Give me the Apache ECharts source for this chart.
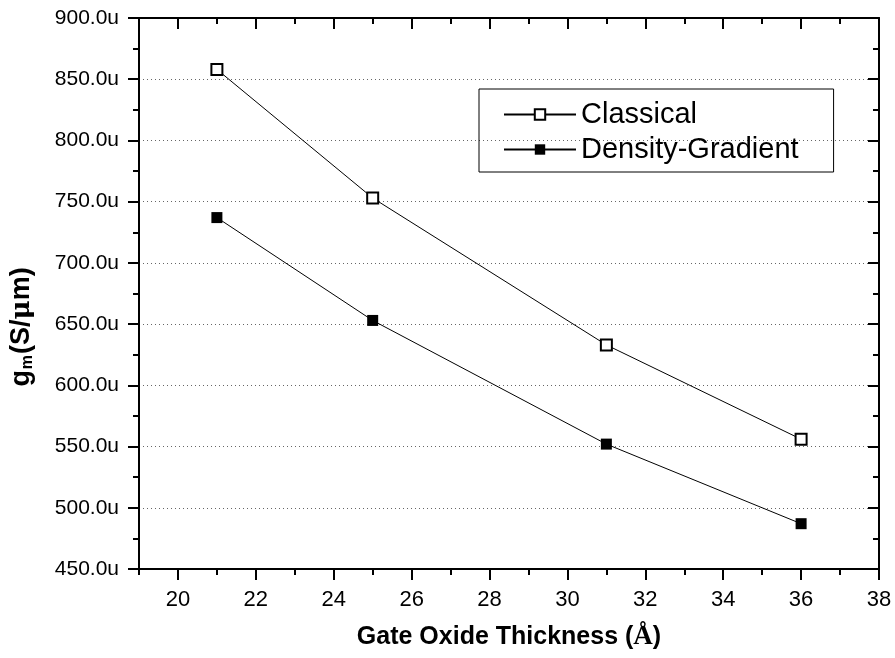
<!DOCTYPE html>
<html>
<head>
<meta charset="utf-8">
<script src="https://cdn.jsdelivr.net/npm/echarts@6/dist/echarts.min.js"></script>
<style>
  html, body { margin: 0; padding: 0; background: #fff; }
  #main { width: 895px; height: 658px; }
</style>
</head>
<body>
<div id="main"></div>
<script>
// data (y in uS/um, printed as "u")
const thickness = [21, 25, 31, 36]
const classical = [858, 753, 633, 556]
const densityGradient = [737, 653, 552, 487]
const xLabelTicks = [20, 22, 24, 26, 28, 30, 32, 34, 36, 38]
const seriesNames = ['Classical', 'Density-Gradient']

const chart = echarts.init(document.getElementById('main'), null, { renderer: 'canvas' })

const font = 'Liberation Sans, Arial, sans-serif'
const pairs = (ys) => thickness.map((x, i) => [x, ys[i]])

// common x axis bits
const xBase = {
  type: 'value',
  gridIndex: 0,
  min: 19,
  max: 38,
  interval: 1,
  splitLine: { show: false },
  axisLine: { show: true, onZero: false, lineStyle: { color: '#000', width: 2 } },
  axisTick: { show: true, length: 6, lineStyle: { color: '#000', width: 2 } },
  axisLabel: { show: false }
}

const option = {
  animation: false,
  backgroundColor: '#fff',
  grid: { left: 139, top: 18, right: 16, bottom: 89 },
  legend: {
    orient: 'vertical',
    left: 479,
    top: 89,
    padding: [11, 35, 8, 24],
    itemGap: 6,
    itemWidth: 72,
    itemHeight: 13,
    borderColor: '#000',
    borderWidth: 1,
    borderRadius: 0,
    data: seriesNames,
    textStyle: { fontFamily: font, fontSize: 29, color: '#000' }
  },
  xAxis: [
    Object.assign({}, xBase, {
      position: 'bottom',
      name: 'Gate Oxide Thickness ({s|Å})',
      nameLocation: 'middle',
      nameGap: 55,
      nameTextStyle: {
        fontFamily: font, fontSize: 25, fontWeight: 'bold', color: '#000',
        rich: { s: { fontFamily: 'Liberation Serif, Times New Roman, serif', fontSize: 27, fontWeight: 'bold', color: '#000' } }
      },
      axisLabel: {
        show: true,
        customValues: xLabelTicks,
        margin: 20,
        fontFamily: font,
        fontSize: 22,
        color: '#000'
      }
    }),
    Object.assign({}, xBase, {
      position: 'bottom',
      axisLine: { show: false },
      axisTick: { show: true, length: 11, customValues: xLabelTicks, lineStyle: { color: '#000', width: 2 } }
    }),
    Object.assign({}, xBase, {
      position: 'top',
      axisTick: { show: true, inside: true, length: 6, lineStyle: { color: '#000', width: 2 } }
    }),
    Object.assign({}, xBase, {
      position: 'top',
      axisLine: { show: false },
      axisTick: { show: true, inside: true, length: 11, customValues: xLabelTicks, lineStyle: { color: '#000', width: 2 } }
    })
  ],
  yAxis: [
    {
      type: 'value',
      position: 'left',
      min: 450,
      max: 900,
      interval: 50,
      axisLine: { show: true, onZero: false, lineStyle: { color: '#000', width: 2 } },
      axisTick: { show: true, length: 11, lineStyle: { color: '#000', width: 2 } },
      minorTick: { show: true, splitNumber: 2, length: 6, lineStyle: { color: '#000', width: 2 } },
      splitLine: { show: true, lineStyle: { color: '#666', width: 1, type: [1, 3] } },
      axisLabel: {
        margin: 20,
        fontFamily: font,
        fontSize: 21,
        color: '#000',
        formatter: (v) => v.toFixed(1) + 'u'
      }
    },
    {
      type: 'value',
      position: 'right',
      min: 450,
      max: 900,
      interval: 50,
      axisLine: { show: true, onZero: false, lineStyle: { color: '#000', width: 2 } },
      axisTick: { show: true, inside: true, length: 11, lineStyle: { color: '#000', width: 2 } },
      minorTick: { show: true, splitNumber: 2, length: 6, lineStyle: { color: '#000', width: 2 } },
      splitLine: { show: false },
      axisLabel: { show: false }
    }
  ],
  graphic: [
    {
      type: 'text',
      x: 22,
      y: 327,
      rotation: Math.PI / 2,
      style: {
        text: 'g{sub|m}(S/{mu|μ}m)',
        fontFamily: font,
        fontSize: 27,
        fontWeight: 'bold',
        fill: '#000',
        align: 'center',
        verticalAlign: 'middle',
        rich: {
          sub: { fontFamily: font, fontSize: 16, fontWeight: 'bold', fill: '#000', padding: [12, 1, 0, 1] },
          mu: { fontFamily: 'DejaVu Serif, serif', fontSize: 26, fontWeight: 'bold', fill: '#000' }
        }
      }
    }
  ],
  series: [
    {
      name: seriesNames[0],
      type: 'line',
      xAxisIndex: 0,
      yAxisIndex: 0,
      symbol: 'emptyRect',
      symbolSize: 11,
      itemStyle: { color: '#000', borderWidth: 1 },
      lineStyle: { color: '#000', width: 1 },
      data: pairs(classical)
    },
    {
      name: seriesNames[1],
      type: 'line',
      xAxisIndex: 0,
      yAxisIndex: 0,
      symbol: 'rect',
      symbolSize: 11,
      itemStyle: { color: '#000' },
      lineStyle: { color: '#000', width: 1 },
      data: pairs(densityGradient)
    }
  ]
}

chart.setOption(option)
</script>
</body>
</html>
